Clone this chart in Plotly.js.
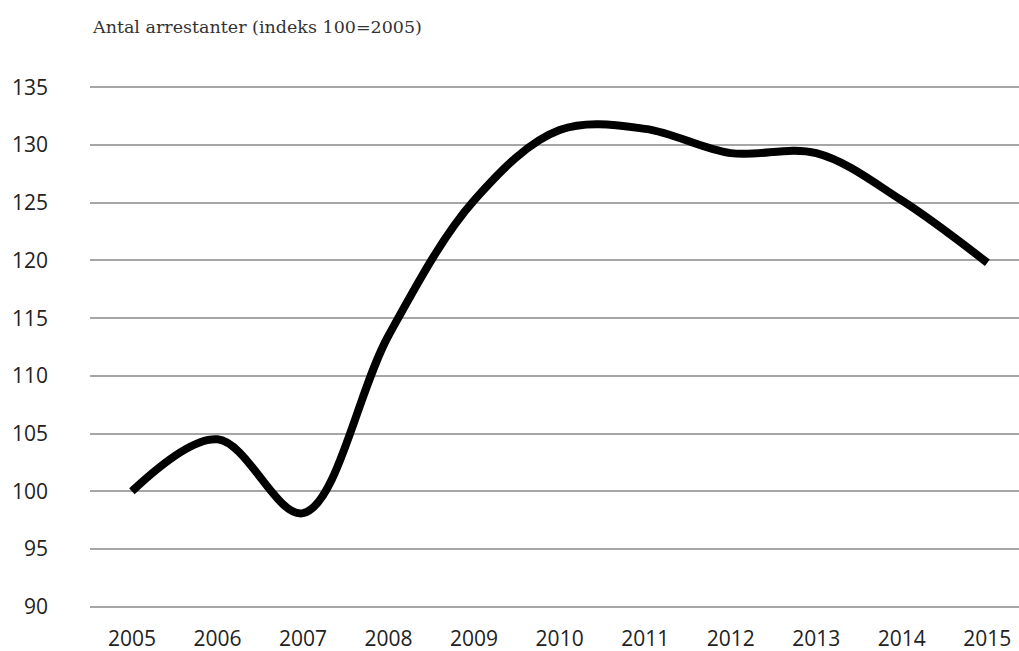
<!DOCTYPE html>
<html>
<head>
<meta charset="utf-8">
<script src="https://cdn.plot.ly/plotly-3.0.1.min.js"></script>
<style>html,body{margin:0;padding:0;background:#fff;}#chart{width:1019px;height:651px;}</style>
</head>
<body>
<div id="chart"></div>
<script>
const years = [2005, 2006, 2007, 2008, 2009, 2010, 2011, 2012, 2013, 2014, 2015];
const values = [100, 104.5, 98.1, 113.5, 125.2, 131.3, 131.4, 129.3, 129.3, 125.2, 119.8];
const yTicks = [90, 95, 100, 105, 110, 115, 120, 125, 130, 135];
const titleText = 'Antal arrestanter (indeks 100=2005)';

Plotly.newPlot('chart', [{
  x: years,
  y: values,
  type: 'scatter',
  mode: 'lines',
  line: {color: '#000000', width: 8, shape: 'spline', smoothing: 1},
  hoverinfo: 'none'
}], {
  width: 1019,
  height: 651,
  margin: {l: 90, r: 0, t: 84.7, b: 41.7},
  paper_bgcolor: '#ffffff',
  plot_bgcolor: '#ffffff',
  showlegend: false,
  title: {
    text: titleText,
    font: {family: 'DejaVu Serif', size: 17.5, color: '#333333'},
    x: 93 / 1019, xanchor: 'left', xref: 'container',
    y: 1 - 27 / 651, yanchor: 'middle', yref: 'container'
  },
  xaxis: {
    range: [2004.51, 2015.37],
    tickvals: years,
    ticktext: years.map(String),
    showgrid: false,
    zeroline: false,
    showline: false,
    ticks: '',
    ticklabelstandoff: 15,
    tickfont: {family: 'Open Sans', size: 21, color: '#222222'}
  },
  yaxis: {
    range: [89.8, 135.2],
    tickvals: yTicks,
    ticktext: yTicks.map(String),
    showgrid: true,
    gridcolor: '#a6a6a6',
    gridwidth: 2,
    zeroline: false,
    showline: false,
    ticks: '',
    ticklabelstandoff: 41,
    tickfont: {family: 'Open Sans', size: 21, color: '#222222'}
  }
}, {staticPlot: true});
</script>
</body>
</html>
